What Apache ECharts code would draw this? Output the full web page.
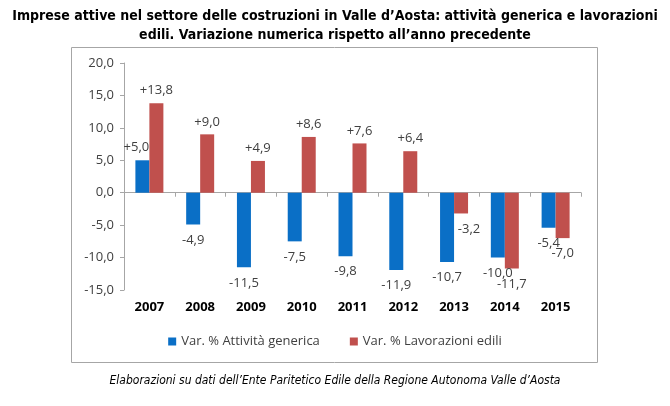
<!DOCTYPE html>
<html><head><meta charset="utf-8">
<script src="https://cdn.jsdelivr.net/npm/echarts@6/dist/echarts.min.js"></script>
<style>html,body{margin:0;padding:0;background:#fff}#c{width:670px;height:406px}</style>
</head><body><div id="c"></div>
<script>
const categories = ['2007','2008','2009','2010','2011','2012','2013','2014','2015'];
const attivitaGenerica = [5.0, -4.9, -11.5, -7.5, -9.8, -11.9, -10.7, -10.0, -5.4];
const lavorazioniEdili = [13.8, 9.0, 4.9, 8.6, 7.6, 6.4, -3.2, -11.7, -7.0];
const seriesNames = ['Var. % Attività generica', 'Var. % Lavorazioni edili'];
const yTicks = {min: -15, max: 20, interval: 5};

const fmt = v => (v > 0 ? '+' : '') + v.toFixed(1).replace('.', ',');
const chart = echarts.init(document.getElementById('c'));
function labelFor(v, other, isSecond){
  // move a label sideways when it would sit over the neighbouring bar
  let shift = 0;
  if (isSecond && v < 0 && other < v) shift = 8;
  if (!isSecond && v > 0 && other > v) shift = -6;
  return {show:true, position: v >= 0 ? 'top' : 'bottom', distance: v >= 0 ? 6 : 9,
    offset:[shift,0],
    formatter: fmt(v), color:'#404040', fontSize:13, fontFamily:'Open Sans'};
}
chart.setOption({
  animation:false,
  title:{
    text:'Imprese attive nel settore delle costruzioni in Valle d\u2019Aosta: attività generica e lavorazioni\nedili. Variazione numerica rispetto all\u2019anno precedente',
    left:'center', top:2,
    textStyle:{fontFamily:'DejaVu Sans Condensed', fontWeight:'bold', fontSize:14, lineHeight:19, color:'#000'}
  },
  legend:{
    data:seriesNames, top:330, left:'center', itemWidth:8, itemHeight:8, itemGap:30, icon:'rect',
    textStyle:{color:'#404040', fontSize:13, fontFamily:'Open Sans'}
  },
  grid:{left:124, right:89, top:63, bottom:116},
  xAxis:{
    type:'category', data:categories,
    axisLine:{onZero:true, lineStyle:{color:'#a6a6a6'}},
    axisTick:{show:true, length:4, lineStyle:{color:'#a6a6a6'}},
    axisLabel:{show:false}
  },
  yAxis:{
    type:'value', min:yTicks.min, max:yTicks.max, interval:yTicks.interval,
    axisLine:{show:true, lineStyle:{color:'#a6a6a6'}},
    axisTick:{show:true, length:4, lineStyle:{color:'#a6a6a6'}},
    splitLine:{show:false},
    axisLabel:{formatter:v=>v.toFixed(1).replace('.',','), color:'#404040', fontSize:13, fontFamily:'Open Sans', margin:10}
  },
  series:[
    {name:seriesNames[0], type:'bar', barWidth:14, barGap:'0%', itemStyle:{color:'#0a6fc6'},
     data:attivitaGenerica.map((v,i)=>({value:v, label:labelFor(v, lavorazioniEdili[i], false)}))},
    {name:seriesNames[1], type:'bar', barWidth:14, barGap:'0%', itemStyle:{color:'#c0504d'},
     data:lavorazioniEdili.map((v,i)=>({value:v, label:labelFor(v, attivitaGenerica[i], true)}))}
  ]
});
const g = [
  {type:'rect', shape:{x:71.5,y:47.5,width:526,height:315}, style:{fill:'none', stroke:'#a6a6a6', lineWidth:1}, z:-1},
  {type:'text', x:335, y:381, style:{text:'Elaborazioni su dati dell\u2019Ente Paritetico Edile della Regione Autonoma Valle d\u2019Aosta', fontFamily:'DejaVu Sans Condensed', fontStyle:'italic', fontSize:12, fill:'#000', align:'center', verticalAlign:'middle'}}
];
categories.forEach(c=>{
  const p = chart.convertToPixel({xAxisIndex:0}, c);
  g.push({type:'text', x:p, y:307, style:{text:c, fontFamily:'Open Sans', fontWeight:'bold', fontSize:13, fill:'#000', align:'center', verticalAlign:'middle'}});
});
chart.setOption({graphic:g});
</script></body></html>
